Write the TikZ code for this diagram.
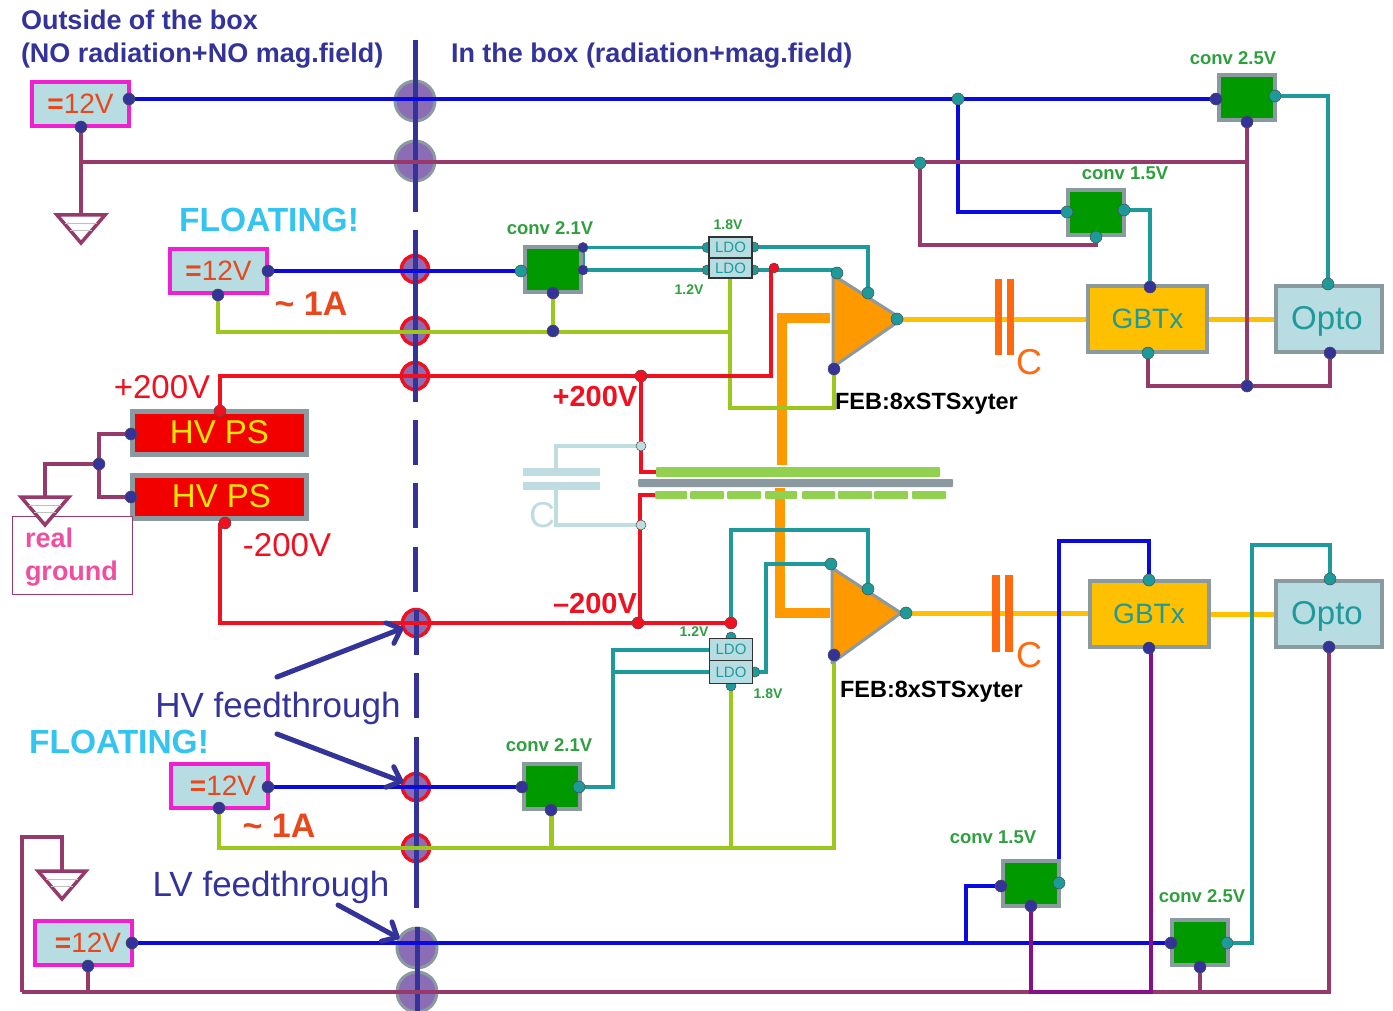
\documentclass[tikz,border=0pt]{standalone}
\usepackage{fontspec}
\setmainfont{Liberation Sans}
\usetikzlibrary{arrows.meta}
\pgfdeclarelayer{under}\pgfdeclarelayer{wires}
\pgfsetlayers{under,wires,main}
\newcommand\fs[1]{\fontsize{#1pt}{#1pt}\selectfont}
\newcommand\vtext{{\bfseries=}12V}
\definecolor{navyc}{HTML}{333399}
\definecolor{bluew}{HTML}{0A0ADC}
\definecolor{maroonw}{HTML}{953A6B}
\definecolor{purplew}{HTML}{87108A}
\definecolor{tealw}{HTML}{1F9A9A}
\definecolor{limew}{HTML}{9CC81E}
\definecolor{redw}{HTML}{F01020}
\definecolor{graybd}{HTML}{8A9AA0}
\definecolor{lightb}{HTML}{B7DDE3}
\definecolor{ghost}{HTML}{BFDCE0}
\definecolor{magb}{HTML}{F020D0}
\definecolor{oranget}{HTML}{E8481C}
\definecolor{orangew}{HTML}{FF9900}
\definecolor{yellw}{HTML}{FFC000}
\definecolor{capo}{HTML}{FF6A10}
\definecolor{conv}{HTML}{009900}
\definecolor{convt}{HTML}{2F9F3F}
\definecolor{strip}{HTML}{92D050}
\definecolor{cyant}{HTML}{33C4F0}
\definecolor{pinkt}{HTML}{EE4FA0}
\definecolor{diskf}{HTML}{8A6DB5}
\tikzset{
 every node/.style={inner sep=0pt,outer sep=0pt},
 w/.style={line width=#1,line join=miter},
 w/.default=3.5pt,
 bw/.style={w=4pt,draw=bluew},
 mw/.style={w,draw=maroonw},
 pw/.style={w,draw=purplew},
 tw/.style={w,draw=tealw},
 lw/.style={w,draw=limew},
 rw/.style={w=4pt,draw=redw},
 yw/.style={w=5pt,draw=yellw},
 ow/.style={w=10pt,draw=orangew},
 gw/.style={w=4pt,draw=ghost},
 port/.style={circle,minimum size=12pt,draw=black!70,line width=.5pt},
 pn/.style={port,fill=navyc},
 pt/.style={port,fill=tealw},
 pr/.style={port,fill=redw},
 pg/.style={port,fill=ghost,minimum size=10pt},
 small/.style={minimum size=10pt},
 vbox/.style={rectangle,draw=magb,line width=4pt,fill=lightb,text=oranget,font={\fs{28}},minimum width=97pt,minimum height=44pt},
 cbox/.style={rectangle,draw=graybd,line width=4pt,fill=conv,minimum width=56pt,minimum height=45pt},
 hvbox/.style={rectangle,draw=graybd,line width=5pt,fill=red!95!black,text=yellow!90!orange,font={\fs{33}},minimum width=174pt,minimum height=43pt},
 gbt/.style={rectangle,draw=graybd,line width=4pt,fill=yellw,text=tealw,font={\fs{28}},minimum width=119pt,minimum height=66pt},
 opto/.style={rectangle,draw=graybd,line width=4pt,fill=lightb,minimum width=106pt,minimum height=66pt},
 optot/.style={text=tealw,font={\fs{33}}},
 ldo/.style={rectangle,draw=black!80,line width=1.2pt,fill=lightb,text=tealw,font={\fs{15}},minimum width=43pt},
 lbl/.style={text=convt,font={\bfseries\fs{18.5}}},
 vl/.style={text=convt,font={\bfseries\fs{14}}},
 hd/.style={text=navyc,font={\bfseries\fs{27}},anchor=west},
 flt/.style={text=cyant,font={\bfseries\fs{33.5}}},
 amp/.style={text=oranget,font={\bfseries\fs{34}}},
 feb/.style={text=black,font={\bfseries\fs{23.5}},anchor=west},
 ft/.style={text=navyc,font={\fs{35}}},
 rl/.style={text=redw,font={\fs{33}}},
 rb/.style={text=redw,font={\bfseries\fs{29}}},
 capl/.style={text=capo,font={\fs{36}}},
 bigd/.style={circle,minimum size=40pt,draw=graybd,line width=3pt,fill=diskf},
 redd/.style={circle,minimum size=27pt,draw=redw,line width=3.5pt,fill=diskf},
 gnd/.style={draw=maroonw,line width=3.5pt,fill=white,line join=miter},
 arw/.style={draw=navyc,line width=5pt,line cap=round,-{Straight Barb[round,length=12pt,width=22pt,line width=5pt]}},
 dashl/.style={draw=navyc,line width=5pt},
 plate/.style={fill=capo},
}
\begin{document}
\begin{tikzpicture}[x=1pt,y=-1pt]
\useasboundingbox (0,0) rectangle (1393,1011);

% ---- feedthrough disks and the wall line
\begin{pgfonlayer}{under}
\fill[white] (0,0) rectangle (1393,1011);
\node[bigd] (d1) at (415,101) {};
\node[bigd] (d2) at (415,161) {};
\node[redd] (r1) at (415,269) {};
\node[redd] (r2) at (415,331) {};
\node[redd] (r3) at (415,376) {};
\node[redd] (r4) at (416,623) {};
\node[redd] (r5) at (416,787) {};
\node[redd] (r6) at (416,848) {};
\node[bigd] (d3) at (417,948) {};
\node[bigd] (d4) at (417,992) {};
\draw[dashl] (415,40)--(415,212) (415,230)--(415,402) (415,420)--(415,465) (415,483)--(415,528) (415,547)--(415,592) (416,610)--(416,655) (416,673)--(416,718) (416,737)--(416,908) (417,927)--(417,1011);
\end{pgfonlayer}

% ---- detector
\fill[strip,rounded corners=1pt] (656,467) rectangle (940,477);
\fill[graybd,rounded corners=1pt] (638,479) rectangle (953,487);
\foreach \a/\b in {655/687,690/724,727/761,765/797,802/835,838/872,874/908,912/946}
  \fill[strip,rounded corners=1pt] (\a,491) rectangle (\b,499);

% ---- boxes
\node[vbox] (v1) at (80.5,104) {\vtext};
\node[vbox] (v2) at (218.5,271) {\vtext};
\node[vbox] (v3) at (219.5,786) {\hspace{7pt}\vtext};
\node[vbox] (v4) at (83,943) {\hspace{10pt}\vtext};
\node[cbox] (c25t) at (1247,97.5) {};
\node[cbox] (c15t) at (1095.5,212.5) {};
\node[cbox] (c21t) at (552.5,270) {};
\node[cbox] (c21b) at (551.5,786) {};
\node[cbox] (c15b) at (1031,883.5) {};
\node[cbox] (c25b) at (1199.5,942.5) {};
\node[hvbox] (hv1) at (219.5,432.5) {HV PS};
\node[hvbox] (hv2) at (219.5,496.5) {\hspace{4pt}HV PS};
\node[gbt] (g1) at (1147.5,319) {GBTx};
\node[gbt] (g2) at (1149,614) {GBTx};
\node[opto] (o1) at (1329,319) {};
\node[opto] (o2) at (1329,614) {};
\node[optot] (o1t-lab) at (1327,321) {Opto};
\node[optot] (o2t-lab) at (1327,616) {Opto};
\node[ldo,minimum height=21pt] (l1) at (730.5,247.5) {LDO};
\node[ldo,minimum height=20pt] (l2) at (730.5,268) {LDO};
\node[ldo,minimum height=22pt] (l3) at (731,649.5) {LDO};
\node[ldo,minimum height=23pt] (l4) at (731,672) {LDO};

% ---- amplifiers
\draw[draw=graybd,line width=3pt,fill=orangew,line join=round] (833,275) -- (902,319) -- (833,367) -- cycle;
\draw[draw=graybd,line width=3pt,fill=orangew,line join=round] (832,568) -- (901,613) -- (832,663) -- cycle;

% ---- capacitor plates
\fill[plate] (995,279) rectangle (1002,355);
\fill[plate] (1007,279) rectangle (1014,355);
\fill[plate] (992,575) rectangle (1000,652);
\fill[plate] (1005,575) rectangle (1013,652);

% ---- ghost capacitor plates
\fill[ghost] (523,468) rectangle (600,476);
\fill[ghost] (523,482) rectangle (600,490);

% ---- ground symbols
\node[draw=none] (gt1) at (81,215) {};
\draw[gnd] (57,215) -- (105,215) -- (81,243) -- cycle;
\draw[black!25,line width=.8pt] (65,223)--(97,223) (70,230)--(92,230);
\node[draw=none] (gt2) at (45,497) {};
\node[draw=maroonw,line width=1pt,fill=white,minimum width=120pt,minimum height=78pt] (rg) at (72,555) {};
\draw[gnd] (21,497) -- (69,497) -- (45,525) -- cycle;
\draw[black!25,line width=.8pt] (29,505)--(61,505) (34,512)--(56,512);
\node[draw=none] (gt3) at (62,871) {};
\draw[gnd] (38,871) -- (86,871) -- (62,899) -- cycle;
\draw[black!25,line width=.8pt] (46,879)--(78,879) (51,886)--(73,886);

% ---- ports half hidden behind the LDO boxes
\begin{pgfonlayer}{wires}
\node[pt,small] (l1l) at (707,247.5) {};
\node[pt,small] (l2l) at (707,270) {};
\node[pt,small] (l1r) at (754,247) {};
\node[pt,small] (l2r) at (754,270) {};
\node[pt,small] (l3t) at (731,637) {};
\node[pn,small] (l3b) at (731,661) {};
\node[pt,small] (l4r) at (755,672) {};
\node[pt,small] (l4b) at (731,686) {};
\end{pgfonlayer}

% ---- ports
\node[pn] (v1r) at (129,99) {};
\node[pn] (v1b) at (81,127) {};
\node[pn] (v2r) at (268,271) {};
\node[pn] (v2b) at (218,295) {};
\node[pn] (v3r) at (268,787) {};
\node[pn] (v3b) at (219,808) {};
\node[pn] (v4r) at (132,943) {};
\node[pn] (v4b) at (88,966) {};
\node[pt] (j1) at (958,99) {};
\node[pt] (j2) at (920,163) {};
\node[pn] (c25tl) at (1216,99) {};
\node[pt] (c25tr) at (1275,96) {};
\node[pn] (c25tb) at (1247,122) {};
\node[pt] (c15tl) at (1067,212) {};
\node[pt] (c15tr) at (1124,210) {};
\node[pt] (c15tb) at (1096,237) {};
\node[pn] (g1t) at (1150,287) {};
\node[pt] (g1b) at (1148,353) {};
\node[pt] (o1t) at (1328,284) {};
\node[pn] (o1b) at (1330,353) {};
\node[pn] (j3) at (1247,386) {};
\node[pt] (c21tl) at (521,271) {};
\node[pn,small] (c21tr1) at (583,247.5) {};
\node[pn,small] (c21tr2) at (583,270) {};
\node[pn] (c21tb) at (553,293) {};
\node[pn] (j4) at (553,331) {};
\node[pr,small] (j5) at (774,268) {};
\node[pr] (j6) at (641,376) {};
\node[pt] (a1t) at (837,273) {};
\node[pt] (a1m) at (868,293) {};
\node[pt] (a1o) at (897,319) {};
\node[pn] (a1b) at (834,369) {};
\node[pr] (hv1t) at (220,411) {};
\node[pr] (hv2b) at (225,523) {};
\node[pn] (hv1l) at (131,434) {};
\node[pn] (hv2l) at (131,497) {};
\node[pn] (j7) at (99,464) {};
\node[pg] (gh1) at (641,446) {};
\node[pg] (gh2) at (641,525) {};
\node[pr] (j8) at (638,623) {};
\node[pr] (j9) at (731,623) {};
\node[pt] (a2t) at (831,564) {};
\node[pt] (a2m) at (868,589) {};
\node[pt] (a2o) at (906,613) {};
\node[pn] (a2b) at (834,655) {};
\node[pn] (c21bl) at (522,787) {};
\node[pt] (c21br) at (579,787) {};
\node[pn] (c21bb) at (551,810) {};
\node[pt] (g2t) at (1149,580) {};
\node[pn] (g2b) at (1149,648) {};
\node[pt] (o2t) at (1330,579) {};
\node[pn] (o2b) at (1329,647) {};
\node[pn] (c15bl) at (1001,886) {};
\node[pt] (c15br) at (1059,883) {};
\node[pn] (c15bb) at (1031,906) {};
\node[pn] (c25bl) at (1171,943) {};
\node[pt] (c25br) at (1227,943) {};
\node[pn] (c25bb) at (1200,967) {};

% ---- named bends
\coordinate (a1) at (958,212);
\coordinate (b1) at (81,162);
\coordinate (b2) at (1247,162);
\coordinate (b3) at (920,245);
\coordinate (b4) at (1096,245);
\coordinate (e1) at (1328,96);
\coordinate (e2) at (1150,210);
\coordinate (e3) at (1148,386);
\coordinate (e4) at (1330,386);
\coordinate (l1a) at (730,332);
\coordinate (l1b) at (730,278);
\coordinate (l1c) at (730,408);
\coordinate (l1d) at (834,408);
\coordinate (l2a) at (218,332);
\coordinate (h1) at (220,376);
\coordinate (h2) at (771,376);
\coordinate (h3) at (771,268);
\coordinate (h4) at (641,472);
\coordinate (h5) at (656,472);
\coordinate (h6) at (656,495);
\coordinate (h7) at (640,495);
\coordinate (h8) at (640,623);
\coordinate (h9) at (220,623);
\coordinate (h10) at (220,523);
\coordinate (t0) at (837,270);
\coordinate (t1) at (731,530);
\coordinate (t2) at (868,530);
\coordinate (t3) at (613,787);
\coordinate (t4) at (613,650);
\coordinate (t5) at (709,650);
\coordinate (t6) at (613,672);
\coordinate (t7) at (709,672);
\coordinate (t8) at (766,672);
\coordinate (t9) at (766,564);
\coordinate (q1) at (219,848);
\coordinate (q2) at (834,848);
\coordinate (q3) at (731,848);
\coordinate (q4) at (551,848);
\coordinate (u1) at (1059,541);
\coordinate (u2) at (1149,541);
\coordinate (u3) at (1252,943);
\coordinate (u4) at (1252,545);
\coordinate (u5) at (1330,545);
\coordinate (u6) at (966,943);
\coordinate (u7) at (966,886);
\coordinate (m0) at (22,992);
\coordinate (m1) at (22,837);
\coordinate (m2) at (62,837);
\coordinate (m3) at (1329,992);
\coordinate (m4) at (88,992);
\coordinate (m5) at (1031,992);
\coordinate (m6) at (1151,992);
\coordinate (m7) at (1151,648);
\coordinate (m8) at (1200,992);
\coordinate (n1) at (99,434);
\coordinate (n2) at (99,497);
\coordinate (n3) at (45,464);
\coordinate (k1) at (830,318);
\coordinate (k2) at (782,318);
\coordinate (k3) at (782,465);
\coordinate (k4) at (780,488);
\coordinate (k5) at (780,613);
\coordinate (k6) at (830,613);
\coordinate (z1) at (556,446);
\coordinate (z2) at (556,468);
\coordinate (z3) at (556,490);
\coordinate (z4) at (556,525);

% ---- connectors
\begin{pgfonlayer}{wires}
\draw[ow] (k1) -- (k2) -- (k3);
\draw[ow] (k4) -- (k5) -- (k6);
\draw[gw] (gh1) -- (z1) -- (z2);
\draw[gw] (z3) -- (z4) -- (gh2);
\draw[yw] (a1o) -- (a1o -| g1.west);
\draw[yw] (g1) -- (o1);
\draw[yw] (a2o) -- (a2o -| g2.west);
\draw[yw] (g2) -- (o2);
\draw[bw] (v1r) -- (j1) -- (c25tl);
\draw[bw] (j1) -- (a1) -- (c15tl);
\draw[mw] (v1b) -- (gt1);
\draw[mw] (b1) -- (b2);
\draw[mw] (c25tb) -- (j3);
\draw[mw] (j2) -- (b3) -- (b4) -- (c15tb);
\draw[tw] (c25tr) -- (e1) -- (o1t);
\draw[tw] (c15tr) -- (e2) -- (g1t);
\draw[mw] (g1b) -- (e3) -- (j3) -- (e4) -- (o1b);
\draw[bw] (v2r) -- (c21tl);
\draw[tw] (c21tr1) -- (l1l);
\draw[tw] (c21tr2) -- (l2l);
\draw[tw] (c21tr1) -- (c21tr2);
\draw[tw] (l1r) -| (a1m);
\draw[tw] (l2r) -- (t0) -- (a1t);
\draw[lw] (v2b) -- (l2a) -- (l1a);
\draw[lw] (c21tb) -- (j4);
\draw[lw] (l1b) -- (l1c) -- (l1d) -- (a1b);
\draw[rw] (hv1t) -- (h1) -- (j6) -- (h2) -- (h3) -- (j5);
\draw[rw] (j6) -- (h4) -- (h5);
\draw[rw] (h6) -- (h7) -- (h8);
\draw[rw] (hv2b) -- (h10) -- (h9) -- (j8) -- (j9);
\draw[tw] (j9) -- (t1) -- (t2) -- (a2m);
\draw[tw] (c21br) -- (t3) -- (t4) -- (t5);
\draw[tw] (t6) -- (t7);
\draw[tw] (l4r) -- (t8) -- (t9) -- (a2t);
\draw[bw] (v3r) -- (c21bl);
\draw[lw] (v3b) -- (q1) -- (q2) -- (a2b);
\draw[lw] (l4b) -- (q3);
\draw[w=5pt,draw=limew] (c21bb) -- (q4);
\draw[bw] (c15br) -- (u1) -- (u2) -- (g2t);
\draw[tw] (c25br) -- (u3) -- (u4) -- (u5) -- (o2t);
\draw[bw] (v4r) -- (c25bl);
\draw[bw] (u6) -- (u7) -- (c15bl);
\draw[mw] (m0) -- (m3) -- (o2b);
\draw[mw] (m0) -- (m1) -- (m2) -- (gt3);
\draw[mw] (v4b) -- (m4);
\draw[mw] (c25bb) -- (m8);
\draw[pw] (c15bb) -- (m5) -- (m6) -- (m7);
\draw[mw] (hv1l) -- (n1) -- (n2) -- (hv2l);
\draw[mw] (j7) -- (n3) -- (gt2);
\end{pgfonlayer}

% ---- feedthrough arrows
\coordinate (ar1) at (277,677);
\coordinate (ar2) at (277,734);
\coordinate (ar3) at (338,905);
\draw[arw] (ar1) -- (r4);
\draw[arw] (ar2) -- (r5);
\draw[arw] (ar3) -- (d3);

% ---- texts
\node[hd] (t-a) at (21,20) {Outside of the box};
\node[hd] (t-b) at (21,55.5) {(NO radiation+NO mag.field)};
\node[hd] (t-c) at (451,55.5) {In the box (radiation+mag.field)};
\node[flt] (t-f1) at (269,220) {FLOATING!};
\node[flt] (t-f2) at (119,742) {FLOATING!};
\node[amp] (t-i1) at (311,304) {\textasciitilde\ 1A};
\node[amp] (t-i2) at (279,826) {\textasciitilde\ 1A};
\node[lbl] (t-c25t) at (1233,58) {conv 2.5V};
\node[lbl] (t-c15t) at (1125,173) {conv 1.5V};
\node[lbl] (t-c21t) at (550,228) {conv 2.1V};
\node[lbl] (t-c21b) at (549,745) {conv 2.1V};
\node[lbl] (t-c15b) at (993,837) {conv 1.5V};
\node[lbl] (t-c25b) at (1202,896) {conv 2.5V};
\node[vl] (t-18a) at (728,225) {1.8V};
\node[vl] (t-12a) at (689,290) {1.2V};
\node[vl] (t-12b) at (694,632) {1.2V};
\node[vl] (t-18b) at (768,694) {1.8V};
\node[feb] (t-fa) at (835,403.5) {FEB:8xSTSxyter};
\node[feb] (t-fb) at (840,691.5) {FEB:8xSTSxyter};
\node[capl] (t-ca) at (1029,362) {C};
\node[capl] (t-cb) at (1029,655) {C};
\node[capl,text=ghost] (t-cc) at (542,515) {C};
\node[rl] (t-p) at (162,387) {+200V};
\node[rl] (t-m) at (287,545) {-200V};
\node[rb] (t-pb) at (595,397) {+200V};
\node[rb] (t-mb) at (595,604) {--200V};
\node[ft] (t-hv) at (278,708) {HV feedthrough};
\node[ft] (t-lv) at (271,887) {LV feedthrough};
\node[text=pinkt,font={\bfseries\fs{27}},anchor=west] (t-r1) at (25,538) {real};
\node[text=pinkt,font={\bfseries\fs{27}},anchor=west] (t-r2) at (25,574) {ground};
\end{tikzpicture}
\end{document}
